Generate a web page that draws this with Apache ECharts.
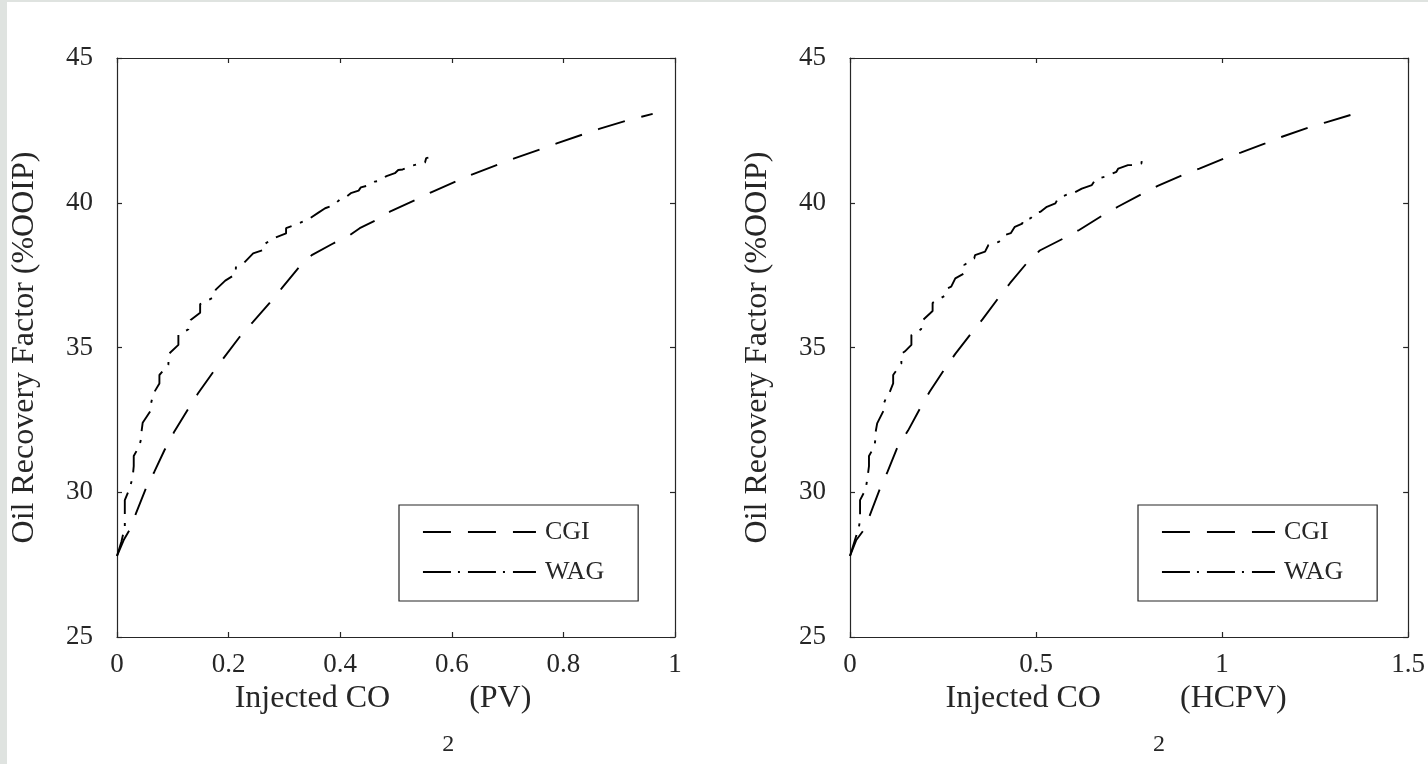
<!DOCTYPE html>
<html>
<head>
<meta charset="utf-8">
<script src="https://cdn.jsdelivr.net/npm/echarts@6/dist/echarts.min.js"></script>
<style>
  html, body { margin: 0; padding: 0; background: #dfe3e0; }
  #chart { width: 1428px; height: 764px; }
</style>
</head>
<body>
<div id="chart"></div>
<script>
// ---- Data ----
const seriesNames = ['CGI', 'WAG'];

// Left panel: Injected CO2 (PV)
const cgiPV = [
  [0,27.8],[0.012,28.35],[0.024,28.75],[0.034,29.27],[0.052,30.14],[0.067,30.71],[0.085,31.45],
  [0.102,32.07],[0.128,32.89],[0.145,33.41],[0.173,34.17],[0.192,34.66],[0.220,35.37],[0.243,35.87],
  [0.274,36.55],[0.295,37.04],[0.326,37.77],[0.349,38.19],[0.388,38.6],[0.418,38.89],[0.435,39.12],
  [0.47,39.45],[0.489,39.69],[0.534,40.09],[0.563,40.36],[0.609,40.75],[0.637,40.98],[0.683,41.32],
  [0.712,41.53],[0.758,41.84],[0.788,42.05],[0.835,42.36],[0.864,42.55],[0.912,42.83],[0.940,42.97],
  [0.96,43.07]
];
const wagPV = [
  [0,27.8],[0.008,28.3],[0.014,28.8],[0.014,29.05],[0.014,29.73],[0.022,30.1],[0.028,30.5],[0.030,30.9],
  [0.030,31.25],[0.040,31.6],[0.044,31.9],[0.044,32.1],[0.046,32.4],[0.061,32.84],[0.061,33.07],
  [0.065,33.4],[0.076,33.76],[0.076,34.05],[0.092,34.4],[0.093,34.78],[0.110,35.09],[0.110,35.43],
  [0.128,35.63],[0.132,35.95],[0.149,36.2],[0.149,36.5],[0.173,36.73],[0.177,37.0],[0.194,37.31],
  [0.213,37.54],[0.213,37.77],[0.228,37.93],[0.244,38.25],[0.262,38.37],[0.262,38.54],[0.280,38.77],
  [0.303,38.94],[0.303,39.12],[0.326,39.29],[0.343,39.43],[0.361,39.66],[0.373,39.81],[0.388,39.92],
  [0.400,40.12],[0.409,40.18],[0.419,40.33],[0.433,40.42],[0.437,40.53],[0.447,40.58],[0.462,40.73],
  [0.468,40.75],[0.483,40.92],[0.498,41.02],[0.504,41.13],[0.512,41.15],[0.530,41.29],[0.531,41.34],
  [0.552,41.39],[0.554,41.54],[0.558,41.56]
];

// Right panel: Injected CO2 (HCPV)
const cgiHCPV = [
  [0,27.8],[0.017,28.35],[0.039,28.73],[0.057,29.33],[0.081,30.14],[0.101,30.71],[0.128,31.57],
  [0.156,32.13],[0.191,32.96],[0.214,33.47],[0.254,34.25],[0.283,34.78],[0.327,35.51],[0.356,35.97],
  [0.400,36.73],[0.430,37.22],[0.476,37.93],[0.510,38.35],[0.574,38.77],[0.616,39.06],[0.681,39.58],
  [0.721,39.87],[0.783,40.29],[0.827,40.58],[0.894,40.96],[0.939,41.18],[1.005,41.53],[1.050,41.73],
  [1.116,42.05],[1.161,42.28],[1.23,42.59],[1.277,42.77],[1.345,43.03]
];
const wagHCPV = [
  [0,27.8],[0.012,28.3],[0.024,28.8],[0.027,29.05],[0.027,29.73],[0.042,30.1],[0.047,30.5],[0.051,30.9],
  [0.051,31.25],[0.066,31.6],[0.069,31.92],[0.069,32.09],[0.073,32.38],[0.091,32.84],[0.091,33.07],
  [0.100,33.36],[0.107,33.47],[0.116,33.76],[0.116,34.05],[0.138,34.45],[0.138,34.78],[0.147,34.86],
  [0.165,35.09],[0.165,35.43],[0.191,35.63],[0.196,35.95],[0.222,36.26],[0.222,36.54],[0.254,36.78],
  [0.263,37.05],[0.272,37.10],[0.283,37.39],[0.307,37.56],[0.307,37.85],[0.334,38.08],[0.336,38.19],
  [0.363,38.31],[0.372,38.54],[0.400,38.65],[0.418,38.89],[0.432,38.95],[0.443,39.17],[0.463,39.28],
  [0.465,39.42],[0.485,39.46],[0.498,39.64],[0.512,39.69],[0.529,39.86],[0.552,39.98],[0.559,40.15],
  [0.569,40.21],[0.587,40.30],[0.598,40.32],[0.623,40.49],[0.650,40.61],[0.659,40.79],[0.667,40.84],
  [0.685,40.9],[0.690,40.96],[0.716,41.07],[0.721,41.18],[0.747,41.30],[0.755,41.30],[0.783,41.35],
  [0.785,41.50]
];

const yLabel = 'Oil Recovery Factor (%OOIP)';
const xUnitsLeft = '(PV)';
const xUnitsRight = '(HCPV)';

// ---- Styling ----
const FONT = '"Liberation Serif", "Times New Roman", serif';
const INK = '#262626';
const cgiDash = [28, 17];
const wagDashCurve = [22, 9, 3, 9];
const wagDashLegend = [28, 7, 2, 8];

function xAxes(grid, max, interval, units) {
  return [
    {
      gridIndex: grid, type: 'value', min: 0, max: max, interval: interval, position: 'bottom',
      axisLine: { show: true, onZero: false, lineStyle: { color: INK, width: 1.2 } },
      axisTick: { show: true, inside: true, length: 5, lineStyle: { color: INK, width: 1.2 } },
      axisLabel: { fontFamily: FONT, fontSize: 27, color: INK, margin: 14 },
      splitLine: { show: false },
      name: '{a|Injected CO}{s|2}{b|' + units + '}',
      nameLocation: 'middle', nameGap: 46,
      nameTextStyle: {
        rich: {
          a: { fontFamily: FONT, fontSize: 32, color: INK, verticalAlign: 'top', lineHeight: 34 },
          b: { fontFamily: FONT, fontSize: 32, color: INK, verticalAlign: 'top', lineHeight: 34, padding: [0, 26, 0, 0] },
          s: { fontFamily: FONT, fontSize: 24, color: INK, verticalAlign: 'top', lineHeight: 26, padding: [50, 15, 0, 52] }
        }
      }
    },
    {
      gridIndex: grid, type: 'value', min: 0, max: max, interval: interval, position: 'top',
      axisLine: { show: true, onZero: false, lineStyle: { color: INK, width: 1.2 } },
      axisTick: { show: true, inside: true, length: 5, lineStyle: { color: INK, width: 1.2 } },
      axisLabel: { show: false }, splitLine: { show: false }
    }
  ];
}
function yAxes(grid) {
  return [
    {
      gridIndex: grid, type: 'value', min: 25, max: 45, interval: 5, position: 'left',
      axisLine: { show: true, onZero: false, lineStyle: { color: INK, width: 1.2 } },
      axisTick: { show: true, inside: true, length: 5, lineStyle: { color: INK, width: 1.2 } },
      axisLabel: { fontFamily: FONT, fontSize: 27, color: INK, margin: 24 },
      splitLine: { show: false },
      name: yLabel, nameLocation: 'middle', nameGap: 76,
      nameTextStyle: { fontFamily: FONT, fontSize: 32, color: INK }
    },
    {
      gridIndex: grid, type: 'value', min: 25, max: 45, interval: 5, position: 'right',
      axisLine: { show: true, onZero: false, lineStyle: { color: INK, width: 1.2 } },
      axisTick: { show: true, inside: true, length: 5, lineStyle: { color: INK, width: 1.2 } },
      axisLabel: { show: false }, splitLine: { show: false }
    }
  ];
}
function lineSeries(name, data, xi, yi, dash) {
  return {
    name: name, type: 'line', data: data, xAxisIndex: xi, yAxisIndex: yi,
    symbol: 'none', showSymbol: false, smooth: false,
    lineStyle: { color: '#000', width: 1.9, type: dash }, itemStyle: { color: '#000' },
    emphasis: { disabled: true }
  };
}
function legendBox(left) {
  return {
    data: [
      { name: seriesNames[0], lineStyle: { type: cgiDash, width: 1.9, color: '#000' } },
      { name: seriesNames[1], lineStyle: { type: wagDashLegend, width: 1.9, color: '#000' } }
    ],
    orient: 'vertical', left: left, top: 505,
    itemWidth: 113, itemHeight: 14, itemGap: 8,
    padding: [11, 34, 13, 23],
    borderColor: INK, borderWidth: 1.2, backgroundColor: '#fff',
    selectedMode: false,
    itemStyle: { opacity: 0, color: 'rgba(0,0,0,0)', borderWidth: 0 },
    textStyle: { fontFamily: FONT, fontSize: 26, color: INK, lineHeight: 26, padding: [0, 0, 6, 4] }
  };
}

const chart = echarts.init(document.getElementById('chart'), null, { renderer: 'canvas' });
chart.setOption({
  animation: false,
  backgroundColor: 'transparent',
  graphic: [{ type: 'rect', z: -10, silent: true, shape: { x: 7, y: 2, width: 1421, height: 762 }, style: { fill: '#ffffff' } }],
  grid: [
    { left: 117, top: 58, width: 558, height: 579 },
    { left: 850, top: 58, width: 562, height: 579 }
  ],
  xAxis: [].concat(xAxes(0, 1, 0.2, xUnitsLeft), xAxes(1, 1.5, 0.5, xUnitsRight)),
  yAxis: [].concat(yAxes(0), yAxes(1)),
  legend: [legendBox(399), legendBox(1138)],
  series: [
    lineSeries('CGI', cgiPV, 0, 0, cgiDash),
    lineSeries('WAG', wagPV, 0, 0, wagDashCurve),
    lineSeries('CGI', cgiHCPV, 2, 2, cgiDash),
    lineSeries('WAG', wagHCPV, 2, 2, wagDashCurve)
  ]
});
</script>
</body>
</html>
